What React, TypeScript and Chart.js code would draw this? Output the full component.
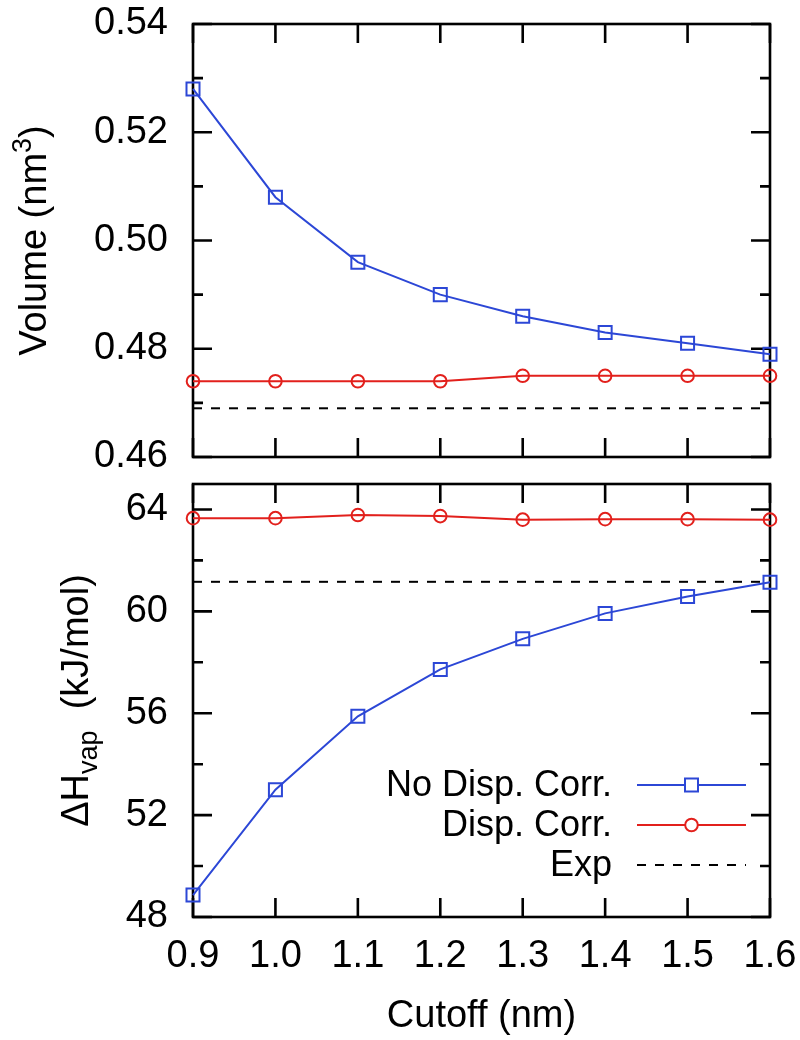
import React, { useEffect, useRef } from 'react';
import { Chart, registerables } from 'chart.js';

Chart.register(...registerables);

// ---------- data ----------
const cutoff = [0.9, 1.0, 1.1, 1.2, 1.3, 1.4, 1.5, 1.6];
const volumeNoDisp = [0.528, 0.508, 0.496, 0.49, 0.486, 0.483, 0.481, 0.479];
const volumeDisp = [0.474, 0.474, 0.474, 0.474, 0.475, 0.475, 0.475, 0.475];
const volumeExp = 0.469;
const hvapNoDisp = [48.86, 53.0, 55.88, 57.72, 58.92, 59.92, 60.58, 61.14];
const hvapDisp = [63.66, 63.66, 63.78, 63.74, 63.6, 63.62, 63.62, 63.6];
const hvapExp = 61.16;

const xTicks = [0.9, 1.0, 1.1, 1.2, 1.3, 1.4, 1.5, 1.6];
const volMajor = [0.46, 0.48, 0.5, 0.52, 0.54];
const volMinor = [0.47, 0.49, 0.51, 0.53];
const hvapMajor = [48, 52, 56, 60, 64];
const hvapMinor = [50, 54, 58, 62];

const seriesLabels = ['No Disp. Corr.', 'Disp. Corr.', 'Exp'];
const xTitle = 'Cutoff (nm)';

// ---------- styles ----------
const FONT = '"Liberation Sans", Arial, Helvetica, sans-serif';
const BLUE = '#2c47d6';
const RED = '#e2201c';
const BLACK = '#000000';
const TICK_FONT = 38;

type Part = { text: string; size: number; dy: number; w?: number };

function drawRotated(ctx: CanvasRenderingContext2D, parts: Part[], cx: number, cy: number) {
  ctx.save();
  ctx.translate(cx, cy);
  ctx.rotate(-Math.PI / 2);
  let total = 0;
  parts.forEach((p) => {
    ctx.font = `${p.size}px ${FONT}`;
    p.w = ctx.measureText(p.text).width;
    total += p.w;
  });
  let x = -total / 2;
  ctx.textAlign = 'left';
  ctx.textBaseline = 'alphabetic';
  ctx.fillStyle = BLACK;
  parts.forEach((p) => {
    ctx.font = `${p.size}px ${FONT}`;
    ctx.fillText(p.text, x, p.dy);
    x += p.w as number;
  });
  ctx.restore();
}

function makeFrame(major: number[], minor: number[]) {
  return {
    id: 'frame',
    beforeDatasetsDraw(chart: any) {
      const { ctx, chartArea: a, scales } = chart;
      const xs = scales.x;
      const ys = scales.y;
      ctx.save();
      ctx.strokeStyle = BLACK;
      ctx.lineWidth = 2.6;
      ctx.lineCap = 'butt';
      ctx.beginPath();
      xTicks.forEach((v) => {
        const px = xs.getPixelForValue(v);
        ctx.moveTo(px, a.top);
        ctx.lineTo(px, a.top + 19);
        ctx.moveTo(px, a.bottom);
        ctx.lineTo(px, a.bottom - 19);
      });
      major.forEach((v) => {
        const py = ys.getPixelForValue(v);
        ctx.moveTo(a.left, py);
        ctx.lineTo(a.left + 19, py);
        ctx.moveTo(a.right, py);
        ctx.lineTo(a.right - 19, py);
      });
      minor.forEach((v) => {
        const py = ys.getPixelForValue(v);
        ctx.moveTo(a.left, py);
        ctx.lineTo(a.left + 10, py);
        ctx.moveTo(a.right, py);
        ctx.lineTo(a.right - 10, py);
      });
      ctx.stroke();
      ctx.strokeRect(a.left, a.top, a.right - a.left, a.bottom - a.top);
      ctx.restore();
    },
  };
}

function makeYTitle(parts: Part[], baselineX: number) {
  return {
    id: 'ytitle',
    afterDraw(chart: any) {
      const a = chart.chartArea;
      drawRotated(chart.ctx, parts.map((p) => ({ ...p })), baselineX, (a.top + a.bottom) / 2);
    },
  };
}

const xTitlePlugin = {
  id: 'xtitle',
  afterDraw(chart: any) {
    const { ctx, chartArea: a } = chart;
    ctx.save();
    ctx.font = `${TICK_FONT}px ${FONT}`;
    ctx.fillStyle = BLACK;
    ctx.textAlign = 'center';
    ctx.textBaseline = 'alphabetic';
    ctx.fillText(xTitle, (a.left + a.right) / 2, 1027);
    ctx.restore();
  },
};

const legendPlugin = {
  id: 'customLegend',
  afterDatasetsDraw(chart: any) {
    const { ctx } = chart;
    const textRight = 612;
    const lineL = 637;
    const lineR = 746;
    const mid = (lineL + lineR) / 2;
    ctx.save();
    chart.data.datasets.forEach((ds: any, i: number) => {
      const y = 785 + i * 40;
      ctx.font = `36px ${FONT}`;
      ctx.fillStyle = BLACK;
      ctx.textAlign = 'right';
      ctx.textBaseline = 'middle';
      ctx.fillText(ds.label, textRight, y + 1);
      ctx.strokeStyle = ds.borderColor;
      ctx.lineWidth = ds.borderWidth;
      ctx.setLineDash(ds.borderDash || []);
      ctx.beginPath();
      ctx.moveTo(lineL, y);
      ctx.lineTo(lineR, y);
      ctx.stroke();
      ctx.setLineDash([]);
      if (ds.pointStyle === 'rect') {
        const s = 6.5;
        ctx.fillStyle = '#ffffff';
        ctx.fillRect(mid - s, y - s, 2 * s, 2 * s);
        ctx.strokeRect(mid - s, y - s, 2 * s, 2 * s);
      } else if (ds.pointStyle === 'circle' && ds.pointRadius > 0) {
        ctx.beginPath();
        ctx.fillStyle = '#ffffff';
        ctx.arc(mid, y, 6.3, 0, Math.PI * 2);
        ctx.fill();
        ctx.stroke();
      }
    });
    ctx.restore();
  },
};

function buildDatasets(noDisp: number[], disp: number[], exp: number) {
  return [
    {
      label: seriesLabels[0],
      data: cutoff.map((x, i) => ({ x, y: noDisp[i] })),
      borderColor: BLUE,
      borderWidth: 2,
      pointStyle: 'rect',
      pointRadius: 9.2,
      pointBorderWidth: 2,
      pointBorderColor: BLUE,
      pointBackgroundColor: 'rgba(0,0,0,0)',
      clip: false,
      tension: 0,
    },
    {
      label: seriesLabels[1],
      data: cutoff.map((x, i) => ({ x, y: disp[i] })),
      borderColor: RED,
      borderWidth: 2,
      pointStyle: 'circle',
      pointRadius: 6.3,
      pointBorderWidth: 2,
      pointBorderColor: RED,
      pointBackgroundColor: 'rgba(0,0,0,0)',
      clip: false,
      tension: 0,
    },
    {
      label: seriesLabels[2],
      data: [
        { x: cutoff[0], y: exp },
        { x: cutoff[cutoff.length - 1], y: exp },
      ],
      borderColor: BLACK,
      borderWidth: 2,
      borderDash: [9, 9],
      pointStyle: 'circle',
      pointRadius: 0,
      clip: false,
      tension: 0,
    },
  ];
}

const yTickFont = { family: FONT, size: TICK_FONT, lineHeight: 1.1 };

export default function App() {
  const topRef = useRef<HTMLCanvasElement | null>(null);
  const botRef = useRef<HTMLCanvasElement | null>(null);

  useEffect(() => {
    const common = {
      animation: false,
      responsive: false,
      maintainAspectRatio: false,
      events: [],
    };

    const top = new Chart(topRef.current as HTMLCanvasElement, {
      type: 'line',
      data: { datasets: buildDatasets(volumeNoDisp, volumeDisp, volumeExp) as any },
      options: {
        ...common,
        layout: { padding: { top: 24, right: 30, bottom: 583, left: 0 } },
        plugins: { legend: { display: false }, tooltip: { enabled: false } },
        scales: {
          x: { type: 'linear', min: 0.9, max: 1.6, display: false },
          y: {
            type: 'linear',
            min: 0.46,
            max: 0.54,
            grid: { display: false, drawTicks: true, tickLength: 22 },
            border: { display: false },
            afterBuildTicks: (s: any) => {
              s.ticks = volMajor.map((v) => ({ value: v }));
            },
            afterFit: (s: any) => {
              s.width = 193;
            },
            ticks: {
              padding: 3,
              color: BLACK,
              font: yTickFont,
              callback: (v: any) => Number(v).toFixed(2),
            },
          },
        },
      } as any,
      plugins: [
        makeFrame(volMajor, volMinor),
        makeYTitle(
          [
            { text: 'Volume (nm', size: 38, dy: 0 },
            { text: '3', size: 27, dy: -15 },
            { text: ')', size: 38, dy: 0 },
          ],
          46
        ),
      ],
    });

    const bot = new Chart(botRef.current as HTMLCanvasElement, {
      type: 'line',
      data: { datasets: buildDatasets(hvapNoDisp, hvapDisp, hvapExp) as any },
      options: {
        ...common,
        layout: { padding: { top: 484, right: 30, bottom: 0, left: 0 } },
        plugins: { legend: { display: false }, tooltip: { enabled: false } },
        scales: {
          x: {
            type: 'linear',
            min: 0.9,
            max: 1.6,
            grid: { display: false, drawTicks: true, tickLength: 16 },
            border: { display: false },
            afterBuildTicks: (s: any) => {
              s.ticks = xTicks.map((v) => ({ value: v }));
            },
            afterFit: (s: any) => {
              s.height = 123;
            },
            ticks: {
              padding: 3,
              maxRotation: 0,
              autoSkip: false,
              color: BLACK,
              font: yTickFont,
              callback: (v: any) => Number(v).toFixed(1),
            },
          },
          y: {
            type: 'linear',
            min: 48,
            max: 65,
            grid: { display: false, drawTicks: true, tickLength: 22 },
            border: { display: false },
            afterBuildTicks: (s: any) => {
              s.ticks = hvapMajor.map((v) => ({ value: v }));
            },
            afterFit: (s: any) => {
              s.width = 193;
            },
            ticks: {
              padding: 3,
              color: BLACK,
              font: yTickFont,
              callback: (v: any) => String(Math.round(Number(v))),
            },
          },
        },
      } as any,
      plugins: [
        makeFrame(hvapMajor, hvapMinor),
        makeYTitle(
          [
            { text: '\u0394H', size: 38, dy: 0 },
            { text: 'vap', size: 27, dy: 9 },
            { text: '  (kJ/mol)', size: 38, dy: 0 },
          ],
          88
        ),
        xTitlePlugin,
        legendPlugin,
      ],
    });

    return () => {
      top.destroy();
      bot.destroy();
    };
  }, []);

  const canvasStyle: React.CSSProperties = {
    position: 'absolute',
    left: 0,
    top: 0,
    width: 800,
    height: 1040,
  };

  return (
    <div style={{ position: 'absolute', left: 0, top: 0, width: 800, height: 1040, background: '#fff' }}>
      <canvas ref={topRef} width={800} height={1040} style={canvasStyle} />
      <canvas ref={botRef} width={800} height={1040} style={canvasStyle} />
    </div>
  );
}
